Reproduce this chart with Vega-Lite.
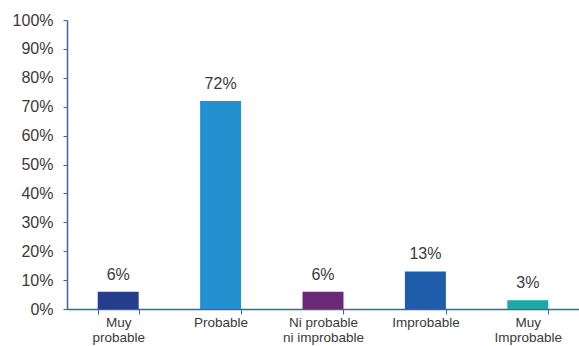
{
  "$schema": "https://vega.github.io/schema/vega-lite/v6.json",
  "width": 512,
  "height": 289,
  "autosize": "none",
  "padding": {"left": 67, "top": 20, "right": 0, "bottom": 37},
  "background": "white",
  "config": {"view": {"stroke": null}, "font": "Liberation Sans"},
  "data": {"values": [
    {"cat": "Muy|probable", "value": 0.06, "label": "6%", "color": "Muy probable"},
    {"cat": "Probable", "value": 0.72, "label": "72%", "color": "Probable"},
    {"cat": "Ni probable|ni improbable", "value": 0.06, "label": "6%", "color": "Ni"},
    {"cat": "Improbable", "value": 0.13, "label": "13%", "color": "Improbable"},
    {"cat": "Muy|Improbable", "value": 0.03, "label": "3%", "color": "Muy Improbable"}
  ]},
  "encoding": {
    "x": {"field": "cat", "type": "nominal", "sort": null, "title": null,
      "scale": {"paddingInner": 0.6, "paddingOuter": 0.3},
      "axis": {"labelAngle": 0, "labelExpr": "split(datum.label, '|')", "tickBand": "extent",
        "domainColor": "#3a62b0", "tickColor": "#3a62b0", "tickSize": 5, "domainWidth": 1.5,
        "labelFontSize": 13.5, "labelColor": "#3a3a3a", "labelPadding": 1, "labelLineHeight": 15, "labelOverlap": false}},
    "y": {"field": "value", "type": "quantitative", "title": null,
      "scale": {"domain": [0, 1], "nice": false},
      "axis": {"format": ".0%", "values": [0,0.1,0.2,0.3,0.4,0.5,0.6,0.7,0.8,0.9,1], "grid": false,
        "domainColor": "#3a62b0", "tickColor": "#3a62b0", "tickSize": 4, "domainWidth": 1.5,
        "labelFontSize": 16, "labelColor": "#3a3a3a", "labelPadding": 10, "labelOverlap": false}}
  },
  "layer": [
    {"mark": {"type": "bar"},
     "encoding": {"color": {"field": "color", "type": "nominal", "legend": null,
       "scale": {"domain": ["Muy probable", "Probable", "Ni", "Improbable", "Muy Improbable"],
                 "range": ["#253d8c", "#2390d0", "#6b2a78", "#1f5dab", "#1fa6a8"]}}}},
    {"mark": {"type": "text", "dy": -9, "fontSize": 16, "color": "#3a3a3a", "baseline": "bottom"},
     "encoding": {"text": {"field": "label"}}}
  ]
}
